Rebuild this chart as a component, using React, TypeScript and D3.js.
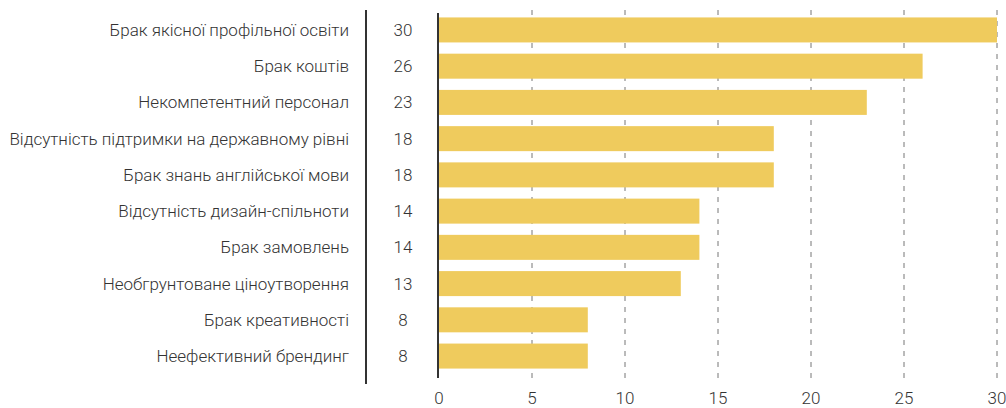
import React from "react";
import * as d3 from "d3";

const categories = [
  "Брак якісної профільної освіти",
  "Брак коштів",
  "Некомпетентний персонал",
  "Відсутність підтримки на державному рівні",
  "Брак знань англійської мови",
  "Відсутність дизайн-спільноти",
  "Брак замовлень",
  "Необгрунтоване ціноутворення",
  "Брак креативності",
  "Неефективний брендинг",
];
const values = [30, 26, 23, 18, 18, 14, 14, 13, 8, 8];
const ticks = [0, 5, 10, 15, 20, 25, 30];

const App = () => {
  const width = 1006, height = 408;
  const font = "Roboto, 'Noto Sans', sans-serif";

  // ось значень
  const x = d3.scaleLinear().domain([0, 30]).range([439, 997]);
  // рядки категорій
  const y = d3.scaleBand<string>()
    .domain(categories)
    .range([12, 374])
    .paddingInner(0.31)
    .paddingOuter(0.15);

  return (
    <svg
      width={width}
      height={height}
      style={{ position: "absolute", left: 0, top: 0, background: "#fff" }}
    >
      {/* сітка */}
      {ticks.filter(t => t > 0).map(t => (
        <line
          key={"g" + t}
          x1={x(t)} x2={x(t)} y1={10} y2={384}
          stroke="#777" strokeWidth={1} strokeDasharray="5,6"
        />
      ))}

      {/* бари */}
      {values.map((v, i) => (
        <rect
          key={"b" + i}
          x={x(0)}
          y={y(categories[i])}
          width={x(v) - x(0)}
          height={y.bandwidth()}
          fill="#efcb5d"
        />
      ))}

      {/* вертикальні лінії */}
      <line x1={366} x2={366} y1={10} y2={384} stroke="#333" strokeWidth={2} />
      <line x1={x(0) - 1} x2={x(0) - 1} y1={13} y2={378} stroke="#333" strokeWidth={2} />

      {/* підписи категорій та значень */}
      {categories.map((c, i) => {
        const cy = (y(c) ?? 0) + y.bandwidth() / 2;
        return (
          <g key={"l" + i} fontFamily={font} fontWeight={300} fontSize={17} fill="#333">
            <text x={349} y={cy} textAnchor="end" dominantBaseline="central">{c}</text>
            <text x={403} y={cy} textAnchor="middle" dominantBaseline="central">{values[i]}</text>
          </g>
        );
      })}

      {/* підписи осі */}
      {ticks.map(t => (
        <text
          key={"t" + t}
          x={x(t)} y={398}
          textAnchor="middle" dominantBaseline="central"
          fontFamily={font} fontWeight={300} fontSize={17} fill="#333"
        >
          {t}
        </text>
      ))}
    </svg>
  );
};

export default App;
